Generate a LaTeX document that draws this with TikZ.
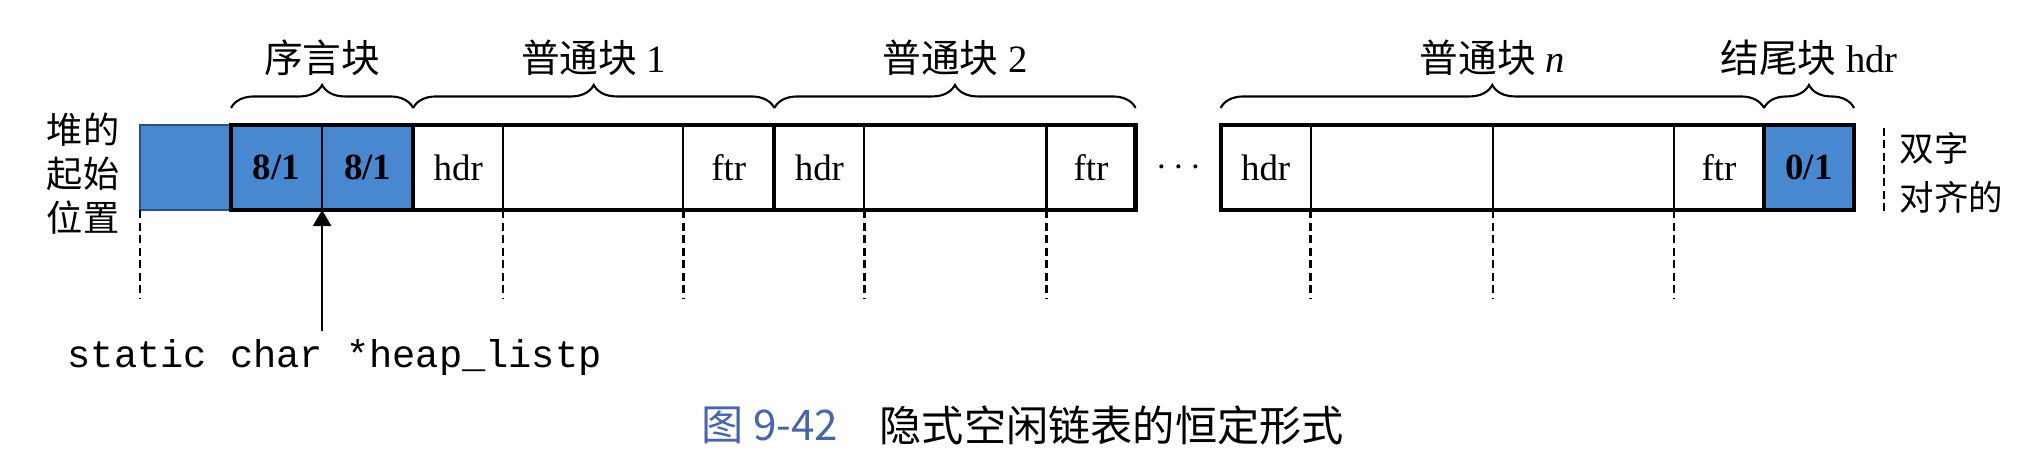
\documentclass[tikz,border=0pt]{standalone}
\usepackage{fontspec}
\setmainfont{Liberation Serif}
\setmonofont{Liberation Mono}
\newfontfamily\cjk{Noto Sans CJK SC}
\usepackage{xcolor}
\usetikzlibrary{positioning,arrows.meta,decorations.pathreplacing}
\definecolor{heapblue}{RGB}{72,136,208}
\definecolor{capblue}{RGB}{70,100,175}

\begin{document}
\begin{tikzpicture}[x=0.01cm, y=-0.01cm, >={Triangle[length=1.6mm, width=1.8mm]},
  cell/.style={draw, line width=0.6pt, minimum height=0.85cm, inner sep=0pt, outer sep=0pt, font=\fontsize{10.5}{12}\selectfont},
  used/.style={cell, fill=heapblue, font=\fontsize{10.5}{12}\selectfont\bfseries},
  blk/.style={draw, line width=1.2pt},
  brc/.style={decorate, decoration={brace, amplitude=0.23cm}, line width=0.6pt},
  lbl/.style={font=\fontsize{11}{13}\selectfont},
  guide/.style={dash pattern=on 0.08cm off 0.045cm, line width=0.7pt}]
\useasboundingbox (0,0) rectangle (2024,464);
% heap cells
\node[used, line width=0.4pt, draw=heapblue!60!black, minimum width=0.91cm, anchor=west] (b0) at (140,167.5) {};
\node[used, minimum width=0.91cm, right=0pt of b0] (p1) {8/1};
\node[used, minimum width=0.91cm, right=0pt of p1] (p2) {8/1};
\node[cell, minimum width=0.90cm, right=0pt of p2] (h1) {hdr};
\node[cell, minimum width=1.80cm, right=0pt of h1] (m1) {};
\node[cell, minimum width=0.91cm, right=0pt of m1] (f1) {ftr};
\node[cell, minimum width=0.90cm, right=0pt of f1] (h2) {hdr};
\node[cell, minimum width=1.82cm, right=0pt of h2] (m2) {};
\node[cell, minimum width=0.89cm, right=0pt of m2] (f2) {ftr};
\node[inner sep=0pt, font=\fontsize{10.5}{12}\selectfont, right=0.2cm of f2] (dots) {$\cdots$};
\node[cell, minimum width=0.90cm, right=0.85cm of f2] (hn) {hdr};
\node[cell, minimum width=1.82cm, right=0pt of hn] (mn) {};
\node[cell, minimum width=1.81cm, right=0pt of mn] (mn2) {};
\node[cell, minimum width=0.90cm, right=0pt of mn2] (fn) {ftr};
\node[used, minimum width=0.90cm, right=0pt of fn] (e) {0/1};
% block outlines
\draw[blk] (p1.north west) rectangle (p2.south east);
\draw[blk] (h1.north west) rectangle (f1.south east);
\draw[blk] (h2.north west) rectangle (f2.south east);
\draw[blk] (hn.north west) rectangle (fn.south east);
\draw[blk] (e.north west) rectangle (e.south east);
% braces
\draw[brc] ([yshift=0.17cm]p1.north west) -- node[lbl, midway, yshift=0.5cm] {\cjk 序言块} ([yshift=0.17cm]p2.north east);
\draw[brc] ([yshift=0.17cm]h1.north west) -- node[lbl, midway, yshift=0.5cm] {{\cjk 普通块} 1} ([yshift=0.17cm]f1.north east);
\draw[brc] ([yshift=0.17cm]h2.north west) -- node[lbl, midway, yshift=0.5cm] {{\cjk 普通块} 2} ([yshift=0.17cm]f2.north east);
\draw[brc] ([yshift=0.17cm]hn.north west) -- node[lbl, midway, yshift=0.5cm] {{\cjk 普通块} \textit{n}} ([yshift=0.17cm]fn.north east);
\draw[brc] ([yshift=0.17cm]e.north west) -- node[lbl, midway, yshift=0.5cm] {{\cjk 结尾块} hdr} ([yshift=0.17cm]e.north east);
% side labels
\node[font={\cjk\fontsize{10.3}{12.5}\selectfont}, align=center, anchor=east, inner sep=0pt] (start) at ([xshift=-0.2cm, yshift=-0.06cm]b0.west) {堆的\\起始\\位置};
\node[font={\cjk\fontsize{9.8}{14}\selectfont}, align=left, anchor=west, inner sep=0pt] (dword) at ([xshift=0.45cm, yshift=-0.05cm]e.east) {双字\\对齐的};
\draw[guide] ([xshift=0.3cm, yshift=-0.03cm]e.north east) -- ([xshift=0.3cm, yshift=-0.05cm]e.south east);
% dashed guides
\coordinate (gbot) at (0,298);
\foreach \c in {b0.south west, h1.south east, m1.south east, h2.south east, m2.south east, hn.south east, mn.south east, mn2.south east}
  \draw[guide] (\c) -- (\c |- gbot);
% heap pointer
\node[font=\fontsize{11}{13}\selectfont\ttfamily, anchor=base west, inner sep=0.07cm] (code) at (60,367) {static char *heap\_listp};
\draw[->, line width=0.7pt] (p1.south east |- code.north) -- (p1.south east);
% caption
\node[font={\cjk\fontsize{12}{14}\selectfont}, text=capblue, anchor=west, inner sep=0pt] (fignum) at (701,425) {图 9-42};
\node[font={\cjk\fontsize{12}{14}\selectfont}, anchor=west, inner sep=0pt] (figcap) at (879,425) {隐式空闲链表的恒定形式};
\end{tikzpicture}
\end{document}
